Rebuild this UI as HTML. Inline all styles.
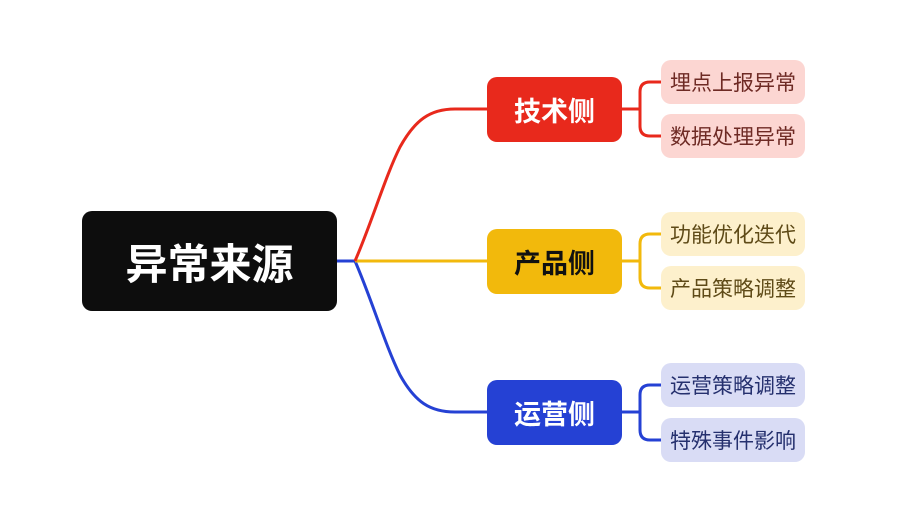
<!DOCTYPE html>
<html><head><meta charset="utf-8"><style>
body{margin:0;background:#fff;width:901px;height:509px;overflow:hidden;font-family:"Liberation Sans","Noto Sans CJK SC",sans-serif}
.b{position:absolute;display:flex;align-items:center;justify-content:center;box-sizing:border-box}
.m{width:135px;height:65px;left:487px;border-radius:10px;font-size:27px;font-weight:bold}
.l{width:144px;height:44px;left:661px;border-radius:10px;font-size:21px}
</style></head><body>
<svg width="901" height="509" style="position:absolute;left:0;top:0" fill="none" stroke-width="3">
<path d="M337 261 L355 261 C372 300 385 345 400 375 C415 402 430 412 455 412 L487 412" stroke="#2541d4"/>
<path d="M355 261 L487 261" stroke="#f2b90c"/>
<path d="M355 261 C372 222 385 177 400 147 C415 120 430 109 455 109 L487 109" stroke="#e8291c"/>
<path d="M622 109 H640 M662 82 H650 Q640 82 640 92 V126 Q640 136 650 136 H662" stroke="#e8291c"/>
<path d="M622 261 H640 M662 234 H650 Q640 234 640 244 V278 Q640 288 650 288 H662" stroke="#f2b90c"/>
<path d="M622 412 H640 M662 385 H650 Q640 385 640 395 V430 Q640 440 650 440 H662" stroke="#2541d4"/>
</svg>
<div class="b" style="left:82px;top:211px;width:255px;height:100px;border-radius:10px;background:#0d0d0d;color:#fff;font-size:42px;font-weight:bold">异常来源</div>
<div class="b m" style="top:77px;background:#e8291c;color:#fff">技术侧</div>
<div class="b m" style="top:229px;background:#f2b90c;color:#111">产品侧</div>
<div class="b m" style="top:380px;background:#2541d4;color:#fff">运营侧</div>
<div class="b l" style="top:60px;background:#fcd6d2;color:#6e2a24">埋点上报异常</div>
<div class="b l" style="top:114px;background:#fcd6d2;color:#6e2a24">数据处理异常</div>
<div class="b l" style="top:212px;background:#fdf0cc;color:#5e4a17">功能优化迭代</div>
<div class="b l" style="top:266px;background:#fdf0cc;color:#5e4a17">产品策略调整</div>
<div class="b l" style="top:363px;background:#d9dcf5;color:#25306e">运营策略调整</div>
<div class="b l" style="top:418px;background:#d9dcf5;color:#25306e">特殊事件影响</div>
</body></html>
